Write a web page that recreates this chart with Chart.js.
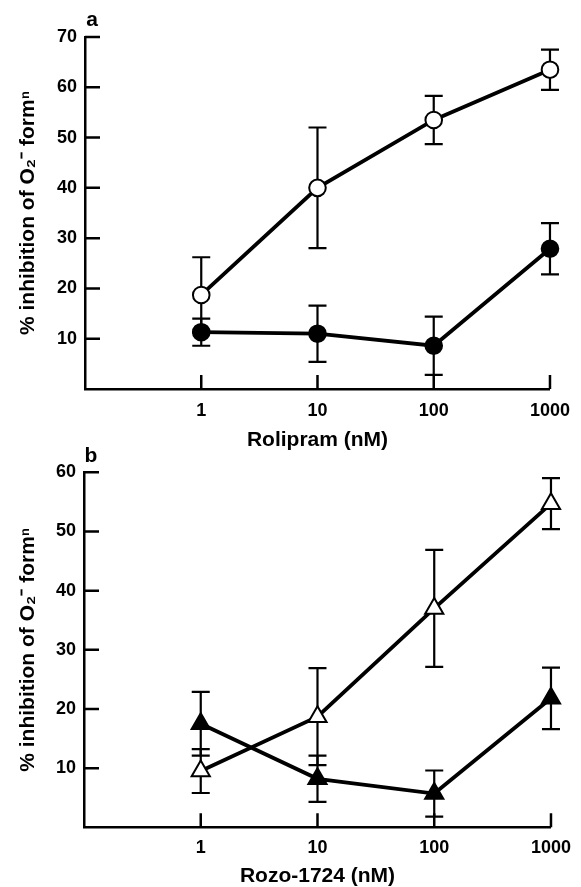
<!DOCTYPE html>
<html>
<head>
<meta charset="utf-8">
<script src="https://cdn.jsdelivr.net/npm/chart.js@4.4.1/dist/chart.umd.min.js"></script>
<style>
  body { margin: 0; background: #fff; }
  #wrap { position: relative; width: 581px; height: 887px; }
  canvas { position: absolute; left: 0; }
</style>
</head>
<body>
<div id="wrap">
  <canvas id="chartA" width="581" height="460" style="top:0px"></canvas>
  <canvas id="chartB" width="581" height="448" style="top:439px"></canvas>
</div>
<script>
// Datos
const doses = [1, 10, 100, 1000];
const xTicks = [1, 10, 100, 1000];

const rolipramOpen = [18.7, 40.0, 53.5, 63.5];
const rolipramOpenErr = [7.5, 12.0, 4.8, 4.0];
const rolipramFilled = [11.3, 11.0, 8.6, 27.9];
const rolipramFilledErr = [2.7, 5.6, 5.8, 5.1];
const yTicksA = [10, 20, 30, 40, 50, 60, 70];

const rozoOpen = [9.5, 18.7, 37.0, 54.7];
const rozoOpenErr = [3.7, 8.2, 9.9, 4.3];
const rozoFilled = [17.5, 8.2, 5.7, 21.8];
const rozoFilledErr = [5.4, 3.9, 3.9, 5.2];
const yTicksB = [10, 20, 30, 40, 50, 60];

const yTitle = "% inhibition of O\u2082\u207B form\u207F";

Chart.defaults.font.family = "'Liberation Sans', Arial, sans-serif";
Chart.defaults.font.weight = "bold";
Chart.defaults.color = "#000";

const toPoints = ys => ys.map((y, i) => ({ x: doses[i], y: y }));

// barras de error (antes de los puntos)
const errorBars = {
    id: "errorBars",
    beforeDatasetsDraw(chart) {
        const ctx = chart.ctx;
        const xs = chart.scales.x, ys = chart.scales.y;
        ctx.save();
        ctx.strokeStyle = "#000";
        ctx.lineWidth = 2.2;
        chart.data.datasets.forEach(ds => {
            ds.data.forEach((p, i) => {
                const e = ds.errors[i];
                const px = xs.getPixelForValue(p.x);
                const top = ys.getPixelForValue(p.y + e);
                const bot = ys.getPixelForValue(p.y - e);
                ctx.beginPath();
                ctx.moveTo(px, top); ctx.lineTo(px, bot);
                ctx.moveTo(px - 9, top); ctx.lineTo(px + 9, top);
                ctx.moveTo(px - 9, bot); ctx.lineTo(px + 9, bot);
                ctx.stroke();
            });
        });
        ctx.restore();
    }
};

// marcas hacia dentro + letra del panel
const innerTicks = {
    id: "innerTicks",
    afterDraw(chart, args, opts) {
        const ctx = chart.ctx;
        const area = chart.chartArea;
        const xs = chart.scales.x, ys = chart.scales.y;
        ctx.save();
        ctx.strokeStyle = "#000";
        ctx.lineWidth = 2.5;
        ctx.beginPath();
        opts.yTicks.forEach(v => {
            const py = ys.getPixelForValue(v);
            ctx.moveTo(area.left, py); ctx.lineTo(area.left + 15, py);
        });
        xTicks.forEach(v => {
            const px = xs.getPixelForValue(v);
            ctx.moveTo(px, area.bottom); ctx.lineTo(px, area.bottom - 14);
        });
        ctx.stroke();
        ctx.fillStyle = "#000";
        ctx.font = "bold 21px 'Liberation Sans', Arial, sans-serif";
        ctx.textAlign = "center";
        ctx.textBaseline = "middle";
        ctx.fillText(opts.label, area.left + 7, area.top - 16.5);
        ctx.restore();
    }
};

function makeChart(id, cfg) {
    return new Chart(document.getElementById(id), {
        type: "line",
        data: {
            datasets: [{
                data: toPoints(cfg.filled),
                errors: cfg.filledErr,
                clip: false,
                borderColor: "#000",
                borderWidth: 3.8,
                pointStyle: cfg.style,
                pointRadius: cfg.radius,
                pointBackgroundColor: "#000",
                pointBorderColor: "#000",
                pointBorderWidth: 2
            }, {
                data: toPoints(cfg.open),
                errors: cfg.openErr,
                clip: false,
                borderColor: "#000",
                borderWidth: 3.8,
                pointStyle: cfg.style,
                pointRadius: cfg.radius,
                pointBackgroundColor: "#fff",
                pointBorderColor: "#000",
                pointBorderWidth: 2
            }]
        },
        options: {
            responsive: false,
            animation: false,
            layout: { padding: { top: cfg.top, right: cfg.right, bottom: 0, left: 0 } },
            plugins: {
                legend: { display: false },
                tooltip: { enabled: false },
                innerTicks: { yTicks: cfg.yTicks, label: cfg.label }
            },
            scales: {
                x: {
                    type: "logarithmic",
                    min: 0.1,
                    max: 1000,
                    afterBuildTicks: s => { s.ticks = xTicks.map(v => ({ value: v })); },
                    afterFit: s => { s.height = cfg.xHeight; },
                    grid: { display: false, drawTicks: false },
                    border: { display: true, color: "#000", width: 2.5 },
                    ticks: {
                        font: { size: 18, weight: "bold" },
                        padding: cfg.xPad,
                        maxRotation: 0,
                        autoSkip: false,
                        callback: v => String(v)
                    },
                    title: {
                        display: true,
                        text: cfg.xTitle,
                        font: { size: 21, weight: "bold", lineHeight: 1 },
                        padding: { top: 0, bottom: cfg.titlePad }
                    }
                },
                y: {
                    min: 0,
                    max: cfg.yMax,
                    afterBuildTicks: s => { s.ticks = cfg.yTicks.map(v => ({ value: v })); },
                    afterFit: s => { s.width = cfg.yWidth; },
                    grid: { display: false, drawTicks: false },
                    border: { display: true, color: "#000", width: 2.5 },
                    ticks: { font: { size: 18, weight: "bold" }, padding: 8 },
                    title: {
                        display: true,
                        text: yTitle,
                        font: { size: 21, weight: "bold", lineHeight: 1 },
                        padding: { top: 17.5, bottom: 0 }
                    }
                }
            }
        },
        plugins: [errorBars, innerTicks]
    });
}

makeChart("chartA", {
    label: "a",
    open: rolipramOpen, openErr: rolipramOpenErr,
    filled: rolipramFilled, filledErr: rolipramFilledErr,
    style: "circle", radius: 8.3,
    yTicks: yTicksA, yMax: 70,
    xTitle: "Rolipram (nM)",
    top: 37, right: 24, yWidth: 85, xHeight: 71, xPad: 11, titlePad: 9.5
});

makeChart("chartB", {
    label: "b",
    open: rozoOpen, openErr: rozoOpenErr,
    filled: rozoFilled, filledErr: rozoFilledErr,
    style: "triangle", radius: 10.5,
    yTicks: yTicksB, yMax: 60,
    xTitle: "Rozo-1724 (nM)",
    top: 33.3, right: 21, yWidth: 84, xHeight: 59.7, xPad: 10, titlePad: 0
});
</script>
</body>
</html>
